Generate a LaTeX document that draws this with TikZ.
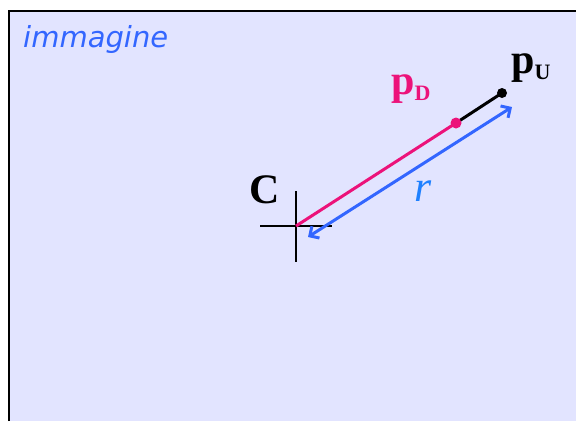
\documentclass[tikz,border=0pt]{standalone}
\usepackage{fontspec}
\setmainfont{Liberation Serif}
\newfontfamily\labelsans{DejaVu Sans}
\usepackage{xcolor}
\usetikzlibrary{positioning, arrows.meta}

\definecolor{panelbg}{RGB}{226,228,255}
\definecolor{pinkD}{RGB}{236,18,122}
\definecolor{arrowblue}{RGB}{51,102,255}
\definecolor{rblue}{RGB}{30,128,255}

\newcommand{\ptsub}[1]{p\raisebox{-6pt}{\fontsize{22}{22}\selectfont #1}}

\begin{document}
\begin{tikzpicture}[
    x=1pt, y=-1pt,
    every node/.style={inner sep=0pt},
    panel/.style={fill=panelbg},
    edge/.style={line width=3pt},
    crossline/.style={line width=1.5pt},
    pointlabel/.style={font=\fontsize{42}{42}\selectfont\bfseries, anchor=base west},
    dot/.style={circle, inner sep=0pt, minimum size=#1},
    arrow/.style={{Straight Barb[length=7pt, width=14pt]}-{Straight Barb[length=7pt, width=14pt]}, line width=3pt, arrowblue},
]
    \useasboundingbox (0,0) rectangle (576,421);

    % --- image frame ---
    \fill[panel] (9,11) rectangle (576,421);
    \draw[line width=2pt] (9,421) -- (9,11) -- (576,11);
    \node[anchor=base west, font=\labelsans\itshape\fontsize{29}{29}\selectfont, text=arrowblue] (title) at (23,47) {immagine};

    % --- points ---
    \coordinate (C) at (296,226);
    \coordinate (pD) at (456,123);
    \coordinate (pU) at (502,93);
    \coordinate (rA) at (308,237);
    \coordinate (rB) at (512,107);

    % --- centre cross ---
    \coordinate (crossW) at (260,226);
    \coordinate (crossE) at (332,226);
    \coordinate (crossN) at (296,191);
    \coordinate (crossS) at (296,262);
    \draw[crossline] (crossW) -- (crossE);
    \draw[crossline] (crossN) -- (crossS);

    % --- segments ---
    \draw[edge] (pD) -- (pU);
    \draw[edge, pinkD] (C) -- (pD);
    \node[dot=11pt, fill=pinkD] (pDdot) at (pD) {};
    \node[dot=10pt, fill=black] (pUdot) at (pU) {};

    % --- radius ---
    \draw[arrow] (rA) -- (rB);

    % --- labels ---
    \node[pointlabel] (Clabel) at (249,203) {C};
    \node[pointlabel, text=pinkD] (pDlabel) at (391,94) {\ptsub{D}};
    \node[pointlabel] (pUlabel) at (511,73) {\ptsub{U}};
    \node[anchor=base west, font=\fontsize{44}{44}\selectfont\itshape, text=rblue] (rlabel) at (414,201) {r};

\end{tikzpicture}
\end{document}
